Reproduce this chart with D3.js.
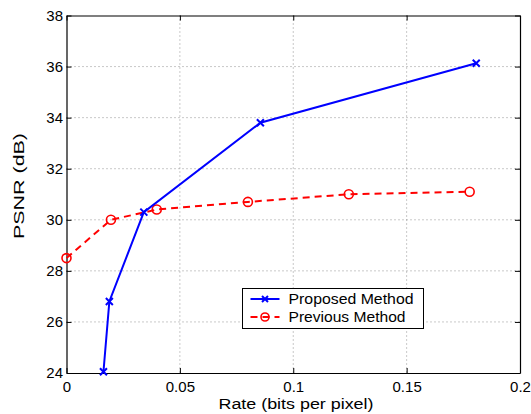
<!DOCTYPE html>
<html>
<head>
<meta charset="utf-8">
<script src="https://cdn.jsdelivr.net/npm/d3@7"></script>
<style>
  body { margin: 0; background: #fff; }
  text { font-family: "Liberation Sans", Arial, sans-serif; }
</style>
</head>
<body>
<script>
// data
var proposedRate = [0.0163, 0.0189, 0.0341, 0.0855, 0.1807];
var proposedPsnr = [24.05, 26.8, 30.3, 33.8, 36.13];
var previousRate = [0.0, 0.0196, 0.0398, 0.080, 0.1245, 0.1778];
var previousPsnr = [28.5, 30.0, 30.4, 30.7, 31.0, 31.1];
var xTicks = [0, 0.05, 0.1, 0.15, 0.2];
var yTicks = [24, 26, 28, 30, 32, 34, 36, 38];
var seriesNames = ["Proposed Method", "Previous Method"];

var margin = { top: 15.5, right: 11, bottom: 41, left: 66.5 },
  W = 531, H = 414,
  width = W - margin.left - margin.right,
  height = H - margin.top - margin.bottom;

var svg = d3.select("body").append("svg")
  .attr("width", W)
  .attr("height", H);

var g = svg.append("g")
  .attr("transform", "translate(" + margin.left + "," + margin.top + ")");

var x = d3.scaleLinear().domain([0, 0.2]).range([0, width]);
var y = d3.scaleLinear().domain([24, 38]).range([height, 0]);

// grid lines (dotted)
g.selectAll(".gx").data(xTicks.slice(1, -1)).enter().append("line")
  .attr("x1", function (d) { return x(d); }).attr("x2", function (d) { return x(d); })
  .attr("y1", 0).attr("y2", height)
  .attr("stroke", "#777").attr("stroke-width", 0.8).attr("stroke-dasharray", "1,3");
g.selectAll(".gy").data(yTicks.slice(1, -1)).enter().append("line")
  .attr("y1", function (d) { return y(d); }).attr("y2", function (d) { return y(d); })
  .attr("x1", 0).attr("x2", width)
  .attr("stroke", "#777").attr("stroke-width", 0.8).attr("stroke-dasharray", "1,3");

// axes, ticks pointing inward like matlab
var fmt = function (d) { return d3.format("")(d); };
g.append("g")
  .attr("transform", "translate(0," + height + ")")
  .call(d3.axisBottom(x).tickValues(xTicks).tickSizeInner(-5).tickSizeOuter(0).tickPadding(8).tickFormat(fmt));
g.append("g")
  .call(d3.axisLeft(y).tickValues(yTicks).tickSizeInner(-5).tickSizeOuter(0).tickPadding(3.5));
g.append("g")
  .call(d3.axisTop(x).tickValues(xTicks).tickSizeInner(-5).tickSizeOuter(0).tickFormat(""));
g.append("g")
  .attr("transform", "translate(" + width + ",0)")
  .call(d3.axisRight(y).tickValues(yTicks).tickSizeInner(-5).tickSizeOuter(0).tickFormat(""));

g.selectAll(".domain").attr("stroke", "#000").attr("stroke-width", 1.2);
g.selectAll(".tick line").attr("stroke", "#000");
g.selectAll(".tick text").style("font-size", "15px").attr("fill", "#000")
  .style("font-family", "'Liberation Sans', Arial, sans-serif");

// lines
var propData = proposedRate.map(function (r, i) { return [r, proposedPsnr[i]]; });
var prevData = previousRate.map(function (r, i) { return [r, previousPsnr[i]]; });
var line = d3.line().x(function (d) { return x(d[0]); }).y(function (d) { return y(d[1]); });

g.append("path").datum(prevData).attr("d", line)
  .attr("fill", "none").attr("stroke", "#ff0000").attr("stroke-width", 2)
  .attr("stroke-dasharray", "7,5");
g.selectAll(".prev").data(prevData).enter().append("circle")
  .attr("cx", function (d) { return x(d[0]); })
  .attr("cy", function (d) { return y(d[1]); })
  .attr("r", 4.5)
  .attr("fill", "none").attr("stroke", "#ff0000").attr("stroke-width", 1.6);

g.append("path").datum(propData).attr("d", line)
  .attr("fill", "none").attr("stroke", "#0000ff").attr("stroke-width", 2);
g.selectAll(".prop").data(propData).enter().append("path")
  .attr("d", "M-3.5,-3.5L3.5,3.5M-3.5,3.5L3.5,-3.5")
  .attr("transform", function (d) { return "translate(" + x(d[0]) + "," + y(d[1]) + ")"; })
  .attr("stroke", "#0000ff").attr("stroke-width", 2).attr("fill", "none");

// axis titles
svg.append("text")
  .attr("x", 296)
  .attr("y", 409)
  .attr("text-anchor", "middle")
  .attr("textLength", 155)
  .attr("lengthAdjust", "spacingAndGlyphs")
  .style("font-size", "14px")
  .text("Rate (bits per pixel)");
svg.append("text")
  .attr("transform", "translate(24,186) rotate(-90)")
  .attr("text-anchor", "middle")
  .attr("textLength", 106)
  .attr("lengthAdjust", "spacingAndGlyphs")
  .style("font-size", "15px")
  .text("PSNR (dB)");

// legend
var lg = svg.append("g").attr("transform", "translate(242.5,288.5)");
lg.append("rect").attr("width", 181).attr("height", 40)
  .attr("fill", "#fff").attr("stroke", "#000").attr("stroke-width", 1);
lg.append("line").attr("x1", 8).attr("x2", 37).attr("y1", 10.5).attr("y2", 10.5)
  .attr("stroke", "#0000ff").attr("stroke-width", 2);
lg.append("path").attr("d", "M-3,-3L3,3M-3,3L3,-3")
  .attr("transform", "translate(22.5,10.5)")
  .attr("stroke", "#0000ff").attr("stroke-width", 2);
lg.append("line").attr("x1", 8).attr("x2", 37).attr("y1", 28.5).attr("y2", 28.5)
  .attr("stroke", "#ff0000").attr("stroke-width", 2).attr("stroke-dasharray", "7,5");
lg.append("circle").attr("cx", 22.5).attr("cy", 28.5).attr("r", 4)
  .attr("fill", "none").attr("stroke", "#ff0000").attr("stroke-width", 1.6);
lg.selectAll(".lt").data(seriesNames).enter().append("text")
  .attr("x", 46)
  .attr("y", function (d, i) { return 15.5 + i * 18; })
  .attr("textLength", function (d, i) { return i === 0 ? 125 : 117; })
  .attr("lengthAdjust", "spacingAndGlyphs")
  .style("font-size", "15px")
  .text(function (d) { return d; });
</script>
</body>
</html>
